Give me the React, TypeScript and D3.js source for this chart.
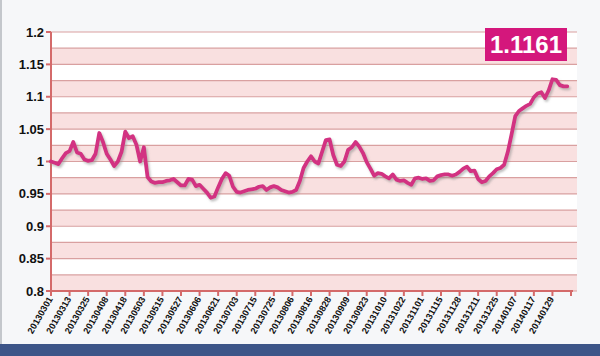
import React from "react";
import * as d3 from "d3";

const W = 600;
const H = 356;

const values: number[] = [
  1.000, 0.998, 0.996, 1.005, 1.013, 1.016, 1.030, 1.014, 1.012, 1.003,
  1.001, 1.002, 1.012, 1.044, 1.030, 1.012, 1.003, 0.993, 1.000, 1.015,
  1.046, 1.036, 1.039, 1.026, 1.000, 1.022, 0.976, 0.969, 0.967, 0.968,
  0.968, 0.970, 0.971, 0.973, 0.968, 0.963, 0.963, 0.973, 0.972, 0.962,
  0.964, 0.958, 0.952, 0.944, 0.946, 0.960, 0.973, 0.982, 0.978, 0.961,
  0.953, 0.952, 0.954, 0.956, 0.957, 0.958, 0.961, 0.962, 0.956, 0.960,
  0.962, 0.960, 0.956, 0.954, 0.952, 0.953, 0.956, 0.970, 0.990, 1.000,
  1.008, 1.000, 0.997, 1.015, 1.033, 1.034, 1.010, 0.995, 0.993, 1.000,
  1.018, 1.022, 1.030, 1.023, 1.013, 0.999, 0.989, 0.978, 0.982, 0.981,
  0.977, 0.974, 0.980, 0.972, 0.970, 0.971, 0.967, 0.964, 0.974, 0.975,
  0.973, 0.974, 0.970, 0.971, 0.977, 0.979, 0.980, 0.980, 0.978, 0.980,
  0.984, 0.989, 0.992, 0.985, 0.986, 0.973, 0.968, 0.970, 0.977, 0.982,
  0.988, 0.990, 0.995, 1.015, 1.042, 1.070, 1.078, 1.082, 1.086, 1.089,
  1.099, 1.105, 1.107, 1.098, 1.110, 1.127, 1.126, 1.118, 1.116, 1.1161,
];

const dateLabels: string[] = [
  "20130301", "20130313", "20130325", "20130408", "20130418", "20130503",
  "20130515", "20130527", "20130606", "20130621", "20130703", "20130715",
  "20130725", "20130806", "20130816", "20130828", "20130909", "20130923",
  "20131010", "20131022", "20131101", "20131115", "20131128", "20131211",
  "20131225", "20140107", "20140117", "20140129", "",
];

const yTicks: number[] = [0.8, 0.85, 0.9, 0.95, 1, 1.05, 1.1, 1.15, 1.2];
const latestLabel = "1.1161";

const POINTS_PER_LABEL = 5;

export default function App() {
  const left = 51;
  const right = 577;
  const top = 32;
  const bottom = 291;
  const axisEnd = 571;

  const x = d3
    .scaleLinear()
    .domain([0, (dateLabels.length - 1) * POINTS_PER_LABEL])
    .range([left, axisEnd]);
  const y = d3.scaleLinear().domain([0.8, 1.2]).range([bottom, top]);

  const bands = d3.range(0, 16).map((i) => ({ v0: 0.8 + i * 0.025, v1: 0.8 + (i + 1) * 0.025, i }));
  const gridVals = d3.range(0, 17).map((i) => 0.8 + i * 0.025);

  const line = d3
    .line<number>()
    .x((_, i) => x(i))
    .y((d) => y(d))
    .curve(d3.curveLinear);

  const path = line(values) || "";
  const font = "Arial, 'Liberation Sans', sans-serif";

  return (
    <svg
      width={W}
      height={H}
      style={{ position: "absolute", left: 0, top: 0 }}
      xmlns="http://www.w3.org/2000/svg"
    >
      <defs>
        <filter id="shadow" x="-5%" y="-5%" width="110%" height="120%">
          <feDropShadow dx="1.5" dy="2" stdDeviation="1.2" floodColor="#8a8a8a" floodOpacity="0.55" />
        </filter>
      </defs>
      <rect x={0} y={0} width={W} height={H} fill="#f6f7f9" />
      <rect x={0} y={0} width={2} height={H} fill="#c4c7cc" />
      <rect x={0} y={344} width={W} height={12} fill="#3d5588" />

      {bands.map((b) => (
        <rect
          key={b.i}
          x={left}
          y={y(b.v1)}
          width={right - left}
          height={y(b.v0) - y(b.v1)}
          fill={b.i % 2 === 0 ? "#f9e0e0" : "#ffffff"}
        />
      ))}
      {gridVals.map((v, i) => (
        <line
          key={i}
          x1={left}
          x2={right}
          y1={y(v)}
          y2={y(v)}
          stroke="#d9a0a0"
          strokeWidth={1.2}
        />
      ))}

      {/* y axis */}
      <line x1={left} x2={left} y1={top} y2={bottom} stroke="#d46a6a" strokeWidth={2} />
      {yTicks.map((t) => (
        <g key={t}>
          <line x1={left - 5} x2={left} y1={y(t)} y2={y(t)} stroke="#d46a6a" strokeWidth={2} />
          <text
            x={left - 7}
            y={y(t)}
            dy="0.35em"
            textAnchor="end"
            fontFamily={font}
            fontWeight="bold"
            fontSize={13}
            fill="#111"
          >
            {String(t)}
          </text>
        </g>
      ))}

      {/* x axis */}
      <line x1={left} x2={axisEnd + 2} y1={bottom} y2={bottom} stroke="#d46a6a" strokeWidth={2} />
      {dateLabels.map((lab, i) => {
        const tx = x(i * POINTS_PER_LABEL);
        return (
          <g key={i}>
            <line x1={tx} x2={tx} y1={bottom} y2={bottom + 5} stroke="#d46a6a" strokeWidth={2} />
            {lab && (
              <text
                transform={`translate(${tx + 2},${bottom + 8}) rotate(-60)`}
                textAnchor="end"
                fontFamily={font}
                fontWeight="bold"
                fontSize={9.2}
                fill="#111"
              >
                {lab}
              </text>
            )}
          </g>
        );
      })}

      <path
        d={path}
        fill="none"
        stroke="#d23282"
        strokeWidth={3.8}
        strokeLinejoin="round"
        strokeLinecap="round"
        filter="url(#shadow)"
      />

      <rect x={485} y={28} width={82} height={33} fill="#d4177c" />
      <text
        x={526}
        y={44.5}
        dy="0.36em"
        textAnchor="middle"
        fontFamily={font}
        fontWeight="bold"
        fontSize={24}
        fill="#ffffff"
      >
        {latestLabel}
      </text>
    </svg>
  );
}
